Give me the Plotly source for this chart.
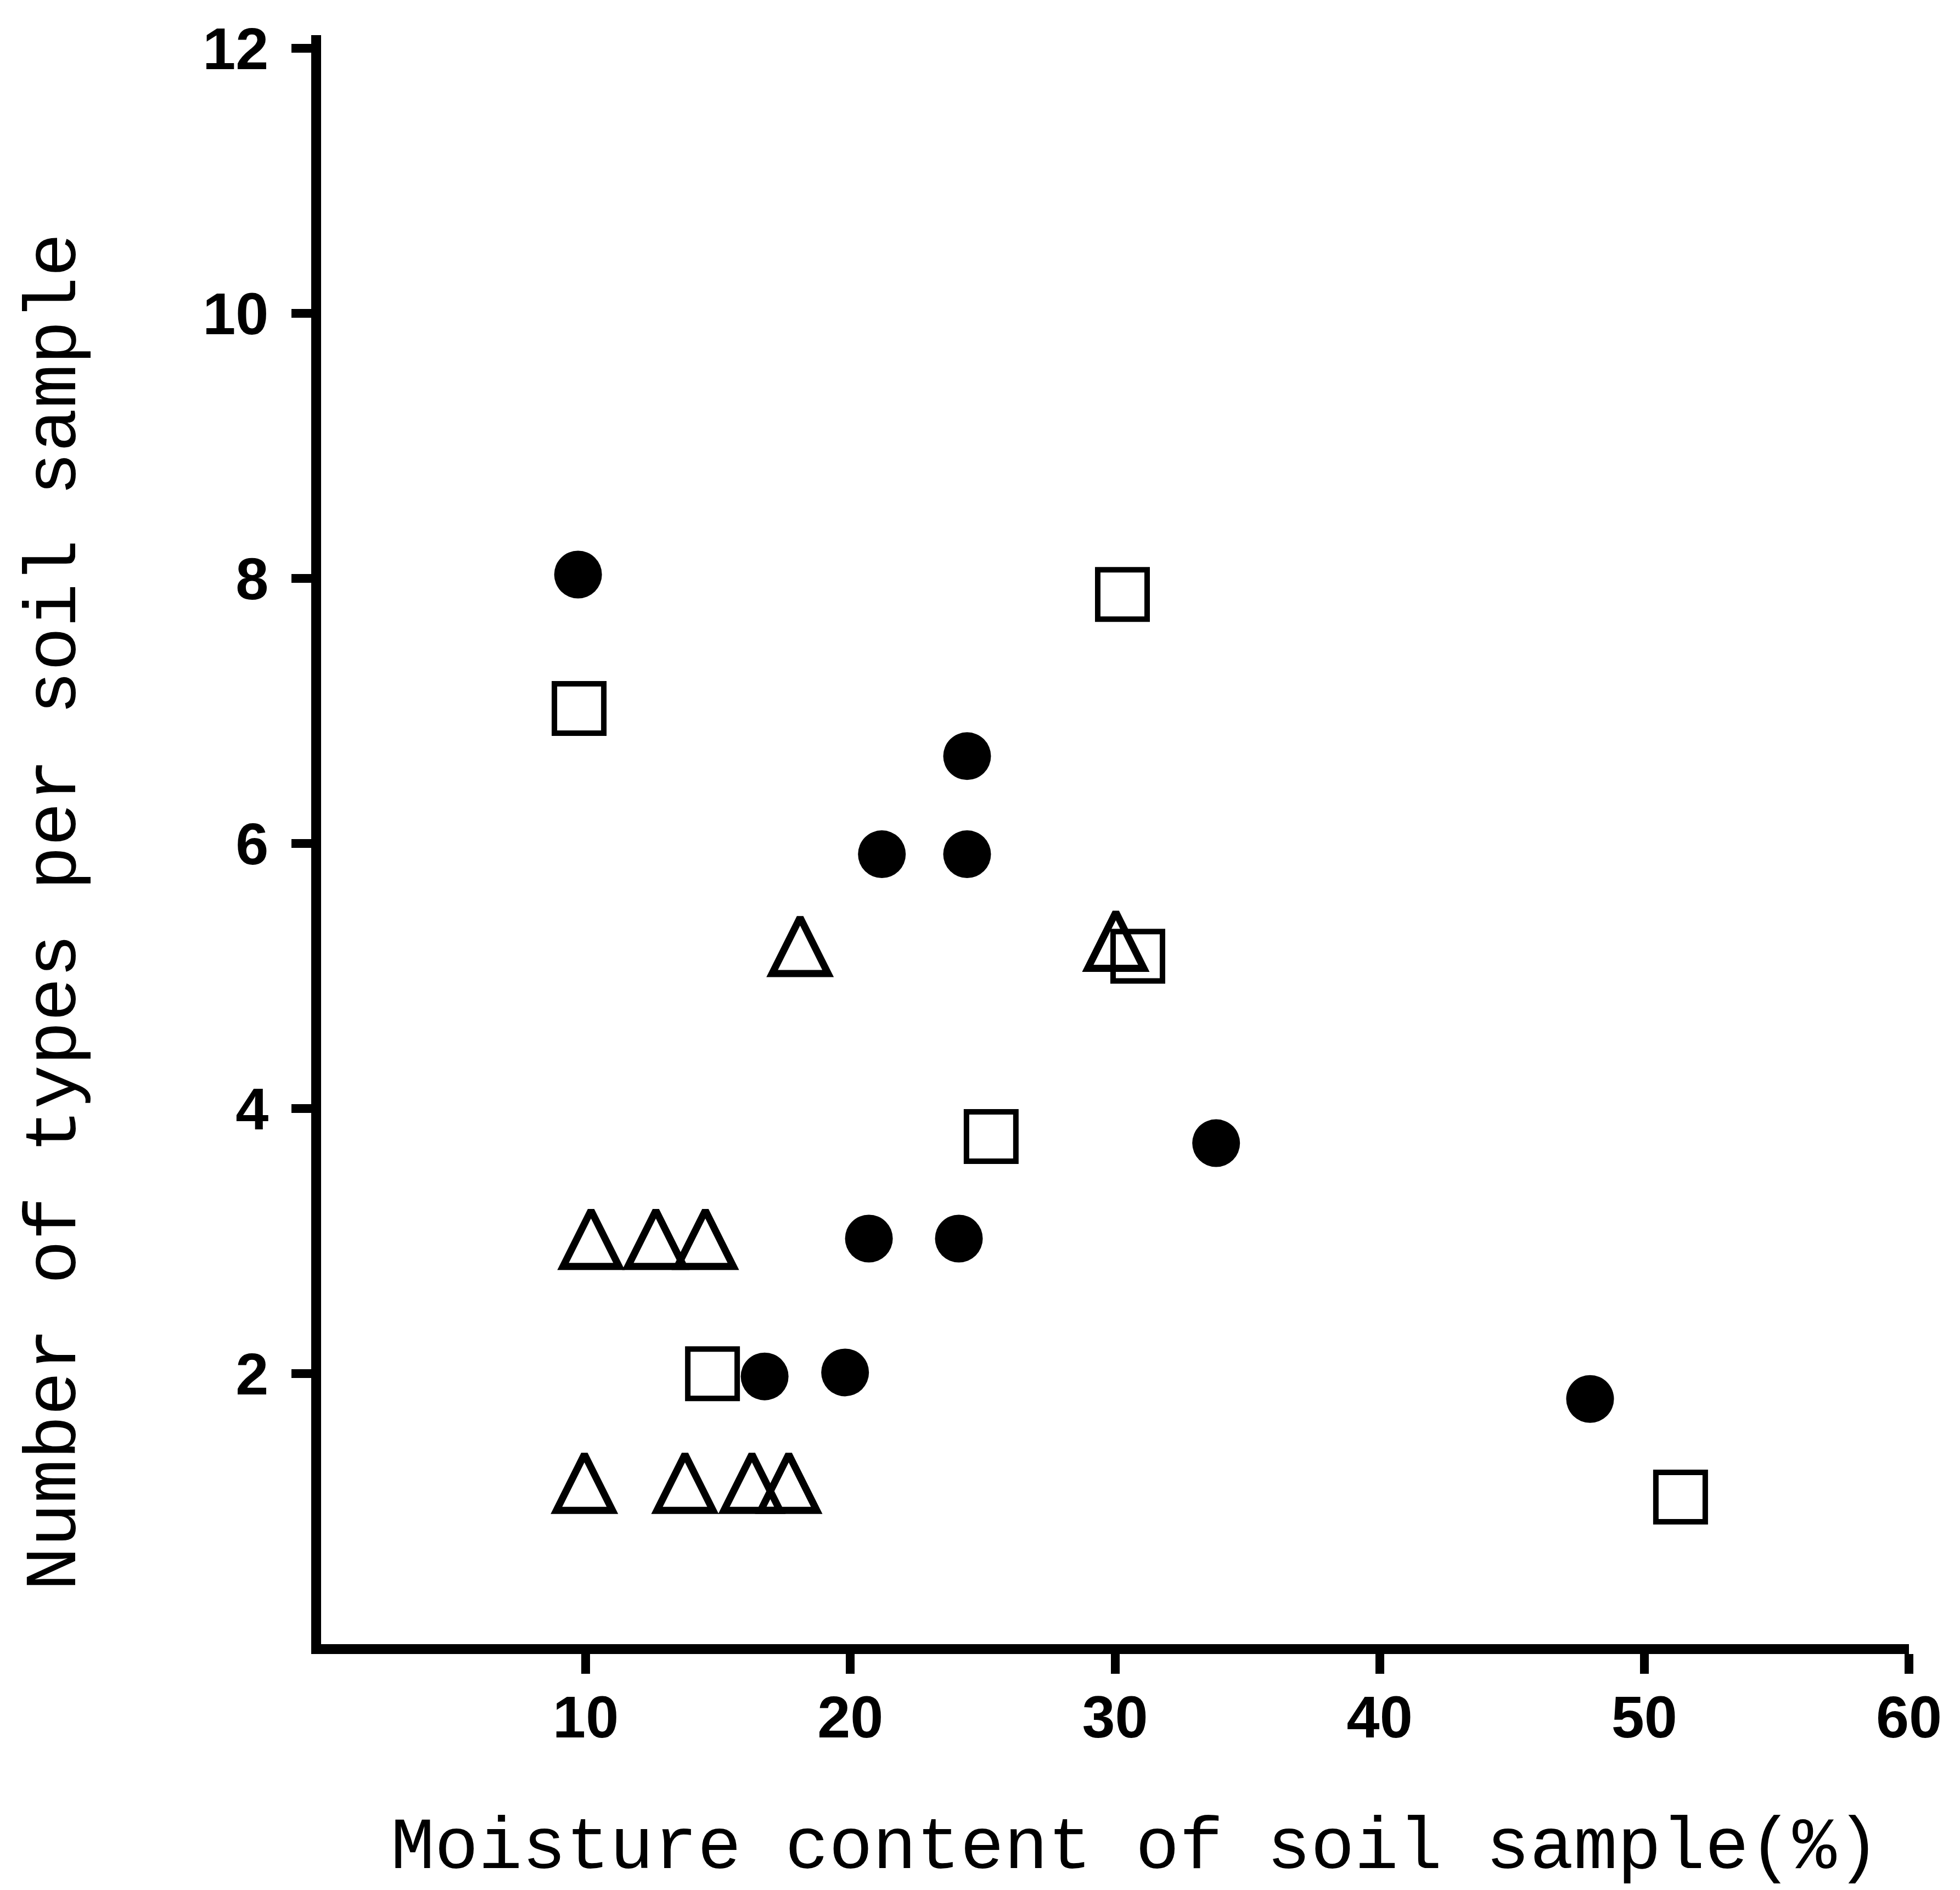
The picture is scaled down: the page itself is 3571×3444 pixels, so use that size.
import plotly.graph_objects as go

# ---- data ----
circle_x = [9.71, 24.41, 21.19, 24.41, 33.82, 20.70, 24.10, 16.76, 19.80, 47.95]
circle_y = [8.03, 6.66, 5.92, 5.92, 3.74, 3.02, 3.02, 1.98, 2.01, 1.81]

square_x = [9.75, 30.28, 30.86, 25.32, 14.79, 51.37]
square_y = [7.02, 7.88, 5.15, 3.79, 2.00, 1.07]

triangle_x = [18.10, 30.03, 10.20, 12.65, 14.52, 9.95, 13.75, 16.28, 17.67]
triangle_y = [5.16, 5.20, 2.95, 2.95, 2.95, 1.11, 1.11, 1.11, 1.11]

x_ticks = [10, 20, 30, 40, 50, 60]
y_ticks = [2, 4, 6, 8, 10, 12]
x_title = "Moisture content of soil sample(%)"
y_title = "Number of types per soil sample"

# ---- figure ----
fig = go.Figure()

fig.add_trace(go.Scatter(
    x=circle_x, y=circle_y, mode="markers",
    marker=dict(symbol="circle", size=87, color="black", line=dict(width=0)),
    hoverinfo="x+y",
))
fig.add_trace(go.Scatter(
    x=square_x, y=square_y, mode="markers",
    marker=dict(symbol="square", size=90, color="rgba(0,0,0,0)",
                line=dict(color="black", width=10)),
    hoverinfo="x+y",
))
# near-equilateral open triangle: arrow-down rotated 180deg, shifted so centroid sits on the point
tri_size = 102
fig.add_trace(go.Scatter(
    x=triangle_x, y=triangle_y, mode="markers",
    marker=dict(symbol="arrow-down", size=tri_size, angle=180,
                standoff=tri_size / 2 * 4 / 3,
                color="rgba(0,0,0,0)", line=dict(color="black", width=13)),
    hoverinfo="x+y",
))

tick_font = dict(family="Liberation Sans", size=108, color="black", weight="bold")
axis_common = dict(
    showline=True, linecolor="black", linewidth=18,
    ticks="outside", ticklen=36, tickwidth=16, tickcolor="black",
    showgrid=False, zeroline=False, tickfont=tick_font,
)

fig.update_xaxes(range=[0, 60], tickvals=x_ticks, ticktext=[str(v) for v in x_ticks],
                 ticklabelstandoff=-14, **axis_common)
fig.update_yaxes(range=[-0.04, 12.1], tickvals=y_ticks, ticktext=[str(v) for v in y_ticks],
                 ticklabelstandoff=20, **axis_common)

title_font = dict(family="Liberation Mono", size=133, color="black")
fig.add_annotation(text=y_title, xref="paper", yref="paper", x=-0.167, y=0.455,
                   xanchor="center", yanchor="middle", textangle=-90,
                   showarrow=False, font=title_font)
fig.add_annotation(text=x_title, xref="paper", yref="paper", x=0.513, y=-0.127,
                   xanchor="center", yanchor="middle",
                   showarrow=False, font=title_font)

fig.update_layout(
    width=3571, height=3444,
    margin=dict(l=585, r=93, t=64, b=448, pad=0),
    plot_bgcolor="white", paper_bgcolor="white",
    showlegend=False,
)

fig.write_html("out.html", config={"displayModeBar": False},
               post_script="document.body.style.margin='0';")
